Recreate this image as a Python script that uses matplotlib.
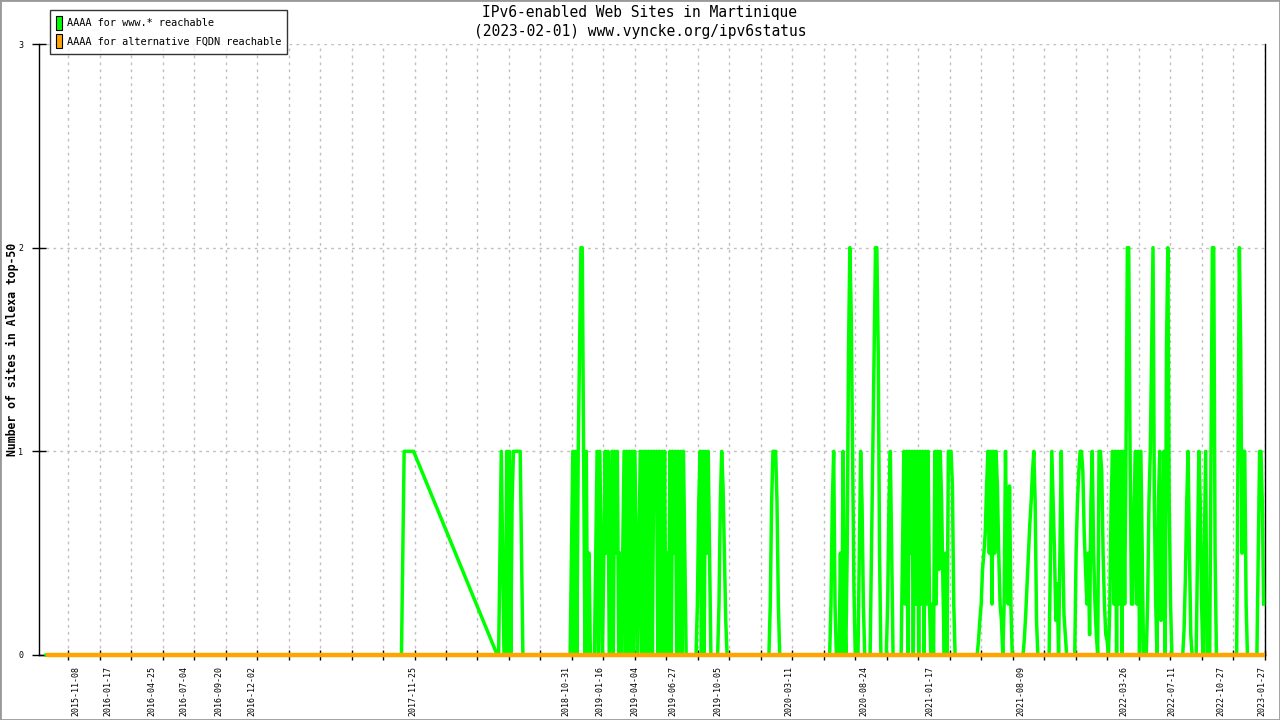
import numpy as np
import pandas as pd
import matplotlib
matplotlib.use("Agg")
import matplotlib.pyplot as plt
import matplotlib.dates as mdates
from matplotlib.patches import Patch, Rectangle

titulo = "IPv6-enabled Web Sites in Martinique\n(2023-02-01) www.vyncke.org/ipv6status"
ylabel = "Number of sites in Alexa top-50"
nomes = ["AAAA for www.* reachable", "AAAA for alternative FQDN reachable"]
cores = ["#00ff00", "#ffa500"]

inicio = "2015-09-02"
fim = "2023-02-01"
passo_dias = 3

# blocos com medidas (data inicial, um valor a cada 3 dias)
bloco_datas = ["2017-10-31", "2018-06-01", "2018-11-10", "2019-08-17",
               "2020-01-26", "2020-06-06", "2021-05-03", "2021-10-10"]
bloco_valores = [
    [0, 0.5, 1, 1, 1, 1, 1, 1, 1, 1],
    [0, 0, 0.5, 1, 0.5, 0, 0, 1, 0, 1, 0, 0.75, 1, 1, 1, 1, 1, 1, 0.5, 0],
    [0, 0.5, 1, 0, 1, 0, 1, 1.5, 2, 2, 1, 0, 1, 0, 0.5, 0, 0, 0, 0, 0.5,
     1, 0, 1, 0.5, 0, 0.5, 1, 0.5, 1, 0, 0.5, 1, 0, 1, 0.5, 1, 0, 0.5, 0, 0.5,
     1, 0, 1, 0, 1, 0, 1, 0, 1, 0.5, 0, 0.5, 1, 0, 1, 0, 1, 0, 1, 0,
     1, 0, 1, 0.75, 1, 0, 1, 0, 1, 0, 1, 0, 0.5, 0, 1, 0, 1, 0.5, 1, 0,
     1, 0, 1, 0, 1, 0.5, 0],
    [0, 0.25, 0.75, 1, 0, 1, 0, 1, 0.5, 1, 0.5, 0, 0, 0, 0, 0, 0, 0.25, 0.75, 1,
     0.83, 0.5, 0.17, 0],
    [0, 0.25, 0.75, 1, 1, 1, 0.75, 0.25, 0],
    [0, 0, 0.25, 0.75, 1, 0.25, 0, 0, 0, 0.5, 0, 1, 0.25, 0, 0.5, 1.5, 2, 1.67, 1, 0.33,
     0, 0, 0, 0.5, 1, 0.75, 0.25, 0, 0, 0, 0, 0, 0.5, 1, 1.5, 2, 2, 1.5, 0.5, 0,
     0, 0, 0, 0, 0.25, 0.75, 1, 0.5, 0, 0, 0, 0, 0, 0, 0, 0.5, 1, 0.25, 1, 0,
     1, 0.5, 1, 0, 1, 0.25, 1, 0, 1, 0.25, 1, 0, 1, 0.25, 1, 0.25, 0, 0.25, 0, 1,
     0.25, 1, 0.42, 1, 0.75, 0.33, 0, 0.5, 0, 1, 1, 1, 0.83, 0.25, 0, 0],
    [0, 0.07, 0.17, 0.25, 0.42, 0.5, 0.6, 0.83, 1, 0.5, 1, 0.25, 1, 0.5, 1, 0.83, 0.5, 0.25, 0.17, 0,
     0.25, 1, 0.5, 0.25, 0.83, 0.25, 0, 0, 0, 0, 0, 0, 0, 0, 0, 0.08, 0.2, 0.35, 0.5, 0.64,
     0.75, 0.9, 1, 0.75, 0.17, 0],
    [0, 0.5, 1, 0.75, 0.5, 0.17, 0.35, 0, 0.5, 1, 0.58, 0.2, 0.1, 0, 0, 0, 0, 0, 0, 0,
     0.5, 0.75, 0.9, 1, 1, 0.9, 0.6, 0.42, 0.25, 0.5, 0.1, 0.75, 1, 0.5, 0.25, 0.1, 0, 1, 1, 0.9,
     0.5, 0.25, 0.1, 0.07, 0, 0.25, 0.75, 1, 0.25, 1, 0, 1, 0.25, 1, 0, 1, 0.25, 1, 2, 2,
     1, 0.25, 0.25, 0.75, 1, 0.25, 1, 0, 1, 0.5, 0, 0, 0, 0.25, 0.75, 1, 1.5, 2, 0.75, 0.25,
     0, 0.75, 1, 0.17, 0.34, 1, 0, 1.5, 2, 0.75, 0.25, 0, 0, 0, 0, 0, 0, 0, 0, 0,
     0.12, 0.38, 0.75, 1, 0.5, 0.1, 0, 0, 0, 0, 0.5, 1, 0.75, 0.25, 0, 0.5, 1, 0, 0, 0,
     1, 2, 2, 0.5, 0, 0, 0, 0, 0, 0, 0, 0, 0, 0, 0, 0, 0, 0, 0, 0,
     1, 2, 1.5, 0.5, 1, 1, 0.25, 0, 0, 0, 0, 0, 0, 0, 0, 0.5, 1, 1, 0.75, 0.25],
]

tick_datas = ["2015-11-08", "2016-01-17", "2016-04-25", "2016-07-04", "2016-09-20",
              "2016-12-02", "2017-11-25", "2018-10-31", "2019-01-16", "2019-04-04",
              "2019-06-27", "2019-10-05", "2020-03-11", "2020-08-24", "2021-01-17",
              "2021-08-09", "2022-03-26", "2022-07-11", "2022-10-27", "2023-01-27"]

# monta a serie verde
datas = [pd.Timestamp(inicio)]
valores = [0]
for d0, vals in zip(bloco_datas, bloco_valores):
    for i, v in enumerate(vals):
        datas.append(pd.Timestamp(d0) + pd.Timedelta(days=passo_dias * i))
        valores.append(v)

fonte = "DejaVu Sans Mono"
fig = plt.figure(figsize=(12.8, 7.2), dpi=100)
ax = fig.add_axes([38.5 / 1280, 1 - 655 / 720, (1265 - 38.5) / 1280, (655 - 44) / 720])

ax.plot(datas, valores, color=cores[0], linewidth=2.5, zorder=3, clip_on=False)
ax.plot([pd.Timestamp(inicio), pd.Timestamp(fim)], [0, 0], color=cores[1],
        linewidth=3.2, zorder=4, clip_on=False, solid_capstyle="butt")

ax.set_ylim(0, 3)
ax.set_xlim(pd.Timestamp("2015-08-16"), pd.Timestamp("2023-02-02"))

# ticks regulares a cada 70 dias (sem rotulo) + rotulos nas datas
regulares = [pd.Timestamp(fim) - pd.Timedelta(days=70 * k) for k in range(39)]
ax.set_xticks([mdates.date2num(t) for t in regulares], minor=True)
ax.set_xticks([mdates.date2num(pd.Timestamp(t)) for t in tick_datas])
ax.set_xticklabels(tick_datas, rotation=90, fontsize=6, family=fonte, va="top")
ax.tick_params(axis="x", which="major", length=0, pad=8)
ax.tick_params(axis="x", which="minor", direction="inout", length=7, width=1)
ax.set_yticks([0, 1, 2, 3])
ax.set_yticklabels(["0", "1", "2", "3"], fontsize=6, family=fonte)
ax.tick_params(axis="y", direction="inout", length=10, width=1, pad=6)

ax.grid(True, axis="x", which="minor", color="#c0c0c0", linestyle=(0, (2, 3)), linewidth=1)
ax.grid(True, axis="y", which="major", color="#c0c0c0", linestyle=(0, (2, 3)), linewidth=1)
ax.grid(False, axis="x", which="major")

ax.spines["top"].set_visible(False)
for lado in ["left", "right", "bottom"]:
    ax.spines[lado].set_linewidth(1)

fig.text(12 / 1280, 1 - 349 / 720, ylabel, rotation=90, ha="center", va="center",
         family=fonte, fontsize=8.3, fontweight="bold")
fig.text(0.5, 1 - 22 / 720, titulo, ha="center", va="center", family=fonte,
         fontsize=10.5, linespacing=1.4)

handles = [Patch(facecolor=c, edgecolor="black", linewidth=0.8) for c in cores]
leg = fig.legend(handles, nomes, loc="upper left", bbox_to_anchor=(50 / 1280, 1 - 10 / 720),
                 prop={"family": fonte, "size": 7.4}, frameon=True, fancybox=False,
                 handlelength=0.6, handleheight=1.8, handletextpad=0.5, labelspacing=0.35,
                 borderpad=0.55, borderaxespad=0)
leg.get_frame().set_edgecolor("black")
leg.get_frame().set_linewidth(1)

fig.patches.append(Rectangle((0, 0), 1, 1, transform=fig.transFigure, fill=False,
                             edgecolor="#999999", linewidth=2))

fig.savefig("out.png", dpi=100)
